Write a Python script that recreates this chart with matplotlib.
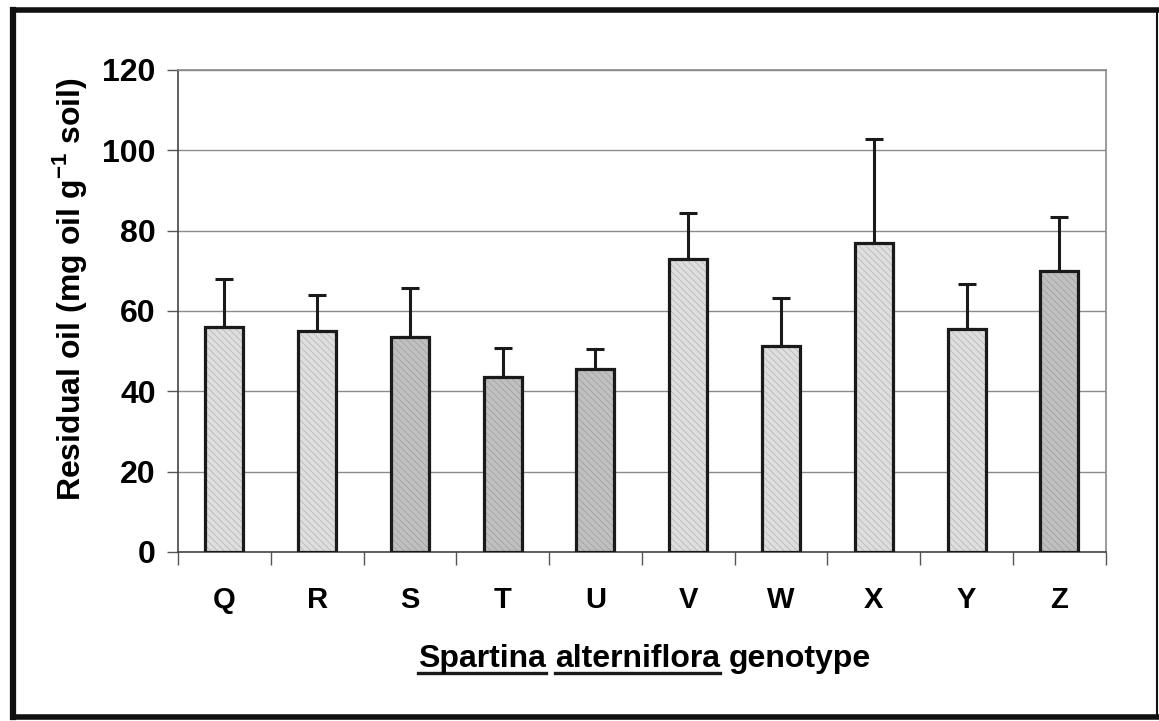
import numpy as np
import matplotlib
matplotlib.use('Agg')
from matplotlib import pyplot as plt
from matplotlib.lines import Line2D

plt.rcParams['font.family'] = ['Liberation Sans', 'DejaVu Sans']
plt.rcParams['font.weight'] = 'bold'
plt.rcParams['mathtext.fontset'] = 'custom'
plt.rcParams['mathtext.rm'] = 'Liberation Sans:bold'
plt.rcParams['mathtext.bf'] = 'Liberation Sans:bold'
plt.rcParams['hatch.linewidth'] = 0.5

# genotypes, mean residual oil and upper error (mean + sd)
genotypes = ['Q', 'R', 'S', 'T', 'U', 'V', 'W', 'X', 'Y', 'Z']
residual_oil = [56, 55, 53.5, 43.5, 45.5, 73, 51.3, 77, 55.5, 70]
upper_err = [12, 9, 12.2, 7.3, 5, 11.4, 11.9, 25.8, 11.2, 13.4]
dark_group = ['S', 'T', 'U', 'Z']

y_ticks = [0, 20, 40, 60, 80, 100, 120]

fig = plt.figure(figsize=(11.59, 7.21), dpi=100)
ax = fig.add_axes([0.1536, 0.2344, 0.8004, 0.6686])

x = np.arange(len(genotypes))
width = 0.41

# stippled fill first, then the dark outline on top
for xi, val, g in zip(x, residual_oil, genotypes):
    if g in dark_group:
        fc, hc = '#c0c0c0', '#9c9c9c'
    else:
        fc, hc = '#dedede', '#b4b4b4'
    ax.bar(xi, val, width=width, color=fc, edgecolor=hc, hatch='\\\\\\\\\\',
           linewidth=0, zorder=2)
ax.bar(x, residual_oil, width=width, fill=False, edgecolor='#1a1a1a',
       linewidth=2.3, zorder=3)
ax.errorbar(x, residual_oil, yerr=[np.zeros(len(x)), upper_err], fmt='none',
            ecolor='#1a1a1a', elinewidth=2.2, capsize=6.5, capthick=2.2, zorder=1)

ax.set_xlim(-0.5, len(genotypes) - 0.5)
ax.set_ylim(0, 120)
ax.set_yticks(y_ticks)
ax.set_yticklabels([str(t) for t in y_ticks], fontsize=23, fontweight='bold')
ax.yaxis.grid(True, color='#8a8a8a', linewidth=1.0)
ax.set_axisbelow(True)

ax.set_xticks(np.arange(-0.5, len(genotypes), 1.0))
ax.set_xticklabels([])
ax.tick_params(axis='x', direction='out', length=9, width=1.0, color='#555555')
ax.tick_params(axis='y', direction='out', length=8, width=1.0, color='#555555', pad=8)
for xi, g in zip(x, genotypes):
    ax.text(xi, -12, g, ha='center', va='center', fontsize=21, fontweight='bold',
            transform=ax.transData, clip_on=False)

for side in ['top', 'right']:
    ax.spines[side].set_color('#8a8a8a')
    ax.spines[side].set_linewidth(1.2)
for side in ['left', 'bottom']:
    ax.spines[side].set_color('#444444')
    ax.spines[side].set_linewidth(1.2)

ax.set_ylabel(r'Residual oil (mg oil g$^{-1}$ soil)', fontsize=23, fontweight='bold',
              va='center')
ax.yaxis.set_label_coords(-0.117, 0.545)

# x label: underlined genus and species names followed by plain word
fig.canvas.draw()
renderer = fig.canvas.get_renderer()
words = ['Spartina', 'alterniflora', 'genotype']
underlined = [True, True, False]
label_size = 23
y_lab = 0.075
cursor = 418 / 1159
space = label_size * 0.278 * 100 / 72 / 1159
for w, ul in zip(words, underlined):
    t = fig.text(cursor, y_lab, w, ha='left', va='baseline', fontsize=label_size,
                 fontweight='bold')
    bb = t.get_window_extent(renderer).transformed(fig.transFigure.inverted())
    if ul:
        fig.add_artist(Line2D([bb.x0, bb.x1], [y_lab - 0.008, y_lab - 0.008],
                              transform=fig.transFigure, color='#1a1a1a', linewidth=2.4))
    cursor = bb.x1 + space

# outer border of the figure, heavier on three sides
border = [((0.011, 0.011), (0.006, 0.986), 4.5),
          ((0.011, 0.998), (0.986, 0.986), 4.0),
          ((0.011, 0.998), (0.006, 0.006), 4.0),
          ((0.998, 0.998), (0.006, 0.986), 1.5)]
for xs, ys, lw in border:
    fig.add_artist(Line2D(xs, ys, transform=fig.transFigure, color='#111111',
                          linewidth=lw, solid_capstyle='projecting'))

fig.savefig('out.png', dpi=100)
